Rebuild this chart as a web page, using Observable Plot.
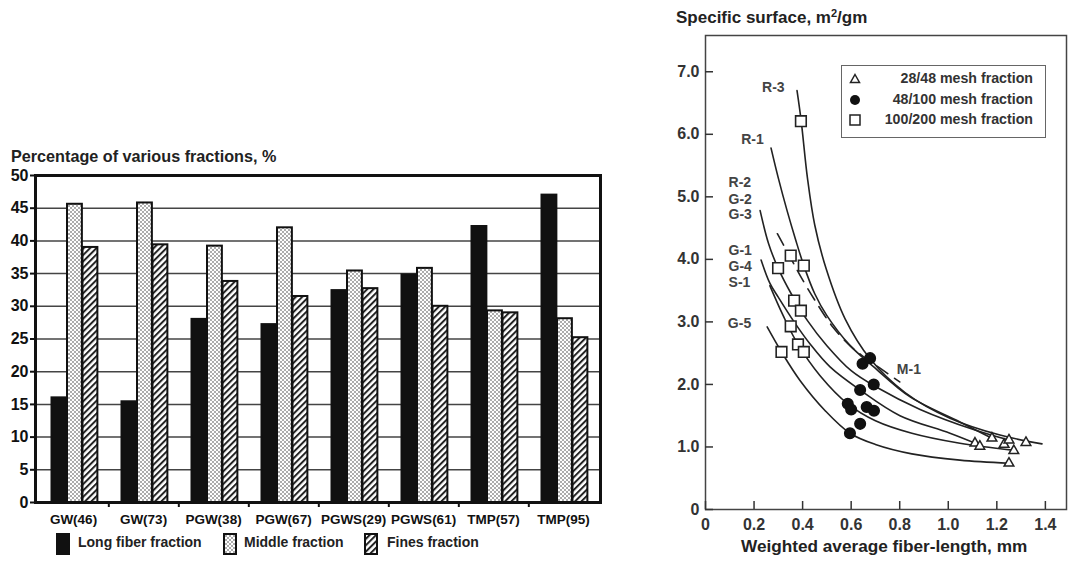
<!DOCTYPE html>
<html><head><meta charset="utf-8">
<script src="https://cdn.jsdelivr.net/npm/d3@7"></script>
<script src="https://cdn.jsdelivr.net/npm/@observablehq/plot@0.6"></script>
<style>
body{margin:0;background:#fff;}
#page{position:relative;width:1073px;height:569px;overflow:hidden;font-family:"Liberation Sans",Arial,sans-serif;font-weight:bold;color:#222;background:#fff;}
.abs{position:absolute;white-space:nowrap;}
</style></head><body><div id="page">
<svg width="0" height="0" style="position:absolute">
<defs>
<pattern id="dots" width="4" height="4" patternUnits="userSpaceOnUse"><rect width="4" height="4" fill="#fff"/><circle cx="1" cy="1" r="0.75" fill="#333"/><circle cx="3" cy="3" r="0.75" fill="#333"/></pattern>
<pattern id="hatch" width="4.5" height="4.5" patternUnits="userSpaceOnUse" patternTransform="rotate(45)"><rect width="4.5" height="4.5" fill="#fff"/><rect width="2" height="4.5" fill="#222"/></pattern>
</defs></svg>
</div>
<script>
// ---------- Left chart data ----------
const categories = ["GW(46)","GW(73)","PGW(38)","PGW(67)","PGWS(29)","PGWS(61)","TMP(57)","TMP(95)"];
const fractions = ["Long fiber fraction","Middle fraction","Fines fraction"];
const longFiber = [16.0,15.4,28.0,27.2,32.4,34.8,42.2,47.0];
const middleFrac = [45.6,45.8,39.2,42.0,35.4,35.8,29.3,28.1];
const finesFrac = [39.0,39.4,33.8,31.5,32.7,30.0,29.0,25.2];
const leftYTicks = [0,5,10,15,20,25,30,35,40,45,50];

// ---------- Right chart data ----------
const rightXTicks = [0,0.2,0.4,0.6,0.8,1.0,1.2,1.4];
const rightYTicks = [0,1,2,3,4,5,6,7];
const mesh28 = [[1.11,1.06],[1.13,1.01],[1.18,1.14],[1.23,1.04],[1.25,1.11],[1.27,0.94],[1.25,0.74],[1.32,1.07]];
const mesh48 = [[0.647,2.33],[0.678,2.42],[0.693,2.00],[0.637,1.91],[0.586,1.69],[0.600,1.60],[0.664,1.64],[0.694,1.58],[0.637,1.37],[0.595,1.22]];
const mesh100 = [[0.393,6.21],[0.351,4.06],[0.299,3.86],[0.405,3.90],[0.365,3.34],[0.393,3.18],[0.351,2.93],[0.381,2.64],[0.405,2.52],[0.313,2.52]];
const curveR3 = [[0.377,6.70],[0.394,6.22],[0.42,5.30],[0.45,4.55],[0.497,3.85],[0.575,3.05],[0.678,2.41],[0.822,1.87],[1.007,1.46],[1.213,1.19],[1.386,1.05]];
const curveR1 = [[0.270,5.78],[0.30,5.30],[0.336,4.78],[0.37,4.33],[0.405,3.90],[0.45,3.45],[0.50,3.10],[0.596,2.62],[0.693,2.28],[0.843,1.80],[1.048,1.40],[1.180,1.14]];
const curveR2 = [[0.225,4.78],[0.26,4.25],[0.299,3.86],[0.353,3.45],[0.42,3.02],[0.50,2.62],[0.60,2.22],[0.707,1.95],[0.884,1.60],[1.110,1.27],[1.250,1.11]];
const curveG1 = [[0.229,3.99],[0.265,3.62],[0.299,3.40],[0.365,3.00],[0.43,2.65],[0.513,2.28],[0.637,1.91],[0.801,1.50],[1.007,1.22],[1.130,1.03]];
const curveS1 = [[0.265,3.58],[0.32,3.10],[0.381,2.64],[0.472,2.14],[0.586,1.69],[0.70,1.42],[0.85,1.22],[1.048,1.06],[1.266,0.95]];
const curveG5 = [[0.254,2.92],[0.313,2.52],[0.39,2.06],[0.493,1.58],[0.595,1.22],[0.70,1.04],[0.85,0.89],[1.048,0.79],[1.250,0.74]];
const curveM1 = [[0.296,4.41],[0.351,4.02],[0.39,3.74],[0.458,3.30],[0.526,2.91],[0.595,2.62],[0.649,2.45],[0.719,2.26],[0.80,2.04]];
const curveLabels = [["R-3",0.233,6.75],["R-1",0.147,5.92],["R-2",0.095,5.23],["G-2",0.095,4.96],["G-3",0.095,4.71],["G-1",0.095,4.14],["G-4",0.095,3.88],["S-1",0.095,3.63],["G-5",0.092,2.97],["M-1",0.788,2.24]];

const FONT = '"Liberation Sans", Arial, sans-serif';
const page = document.getElementById("page");
function place(el, left, top){ el.style.position="absolute"; el.style.left=left+"px"; el.style.top=top+"px"; page.appendChild(el); return el; }
function textDiv(txt, left, top, size, extra){ const d=document.createElement("div"); d.className="abs"; d.innerHTML=txt; d.style.fontSize=size+"px"; place(d,left,top); if(extra) Object.assign(d.style, extra); return d; }

// ---------- Left chart ----------
const rows = [];
categories.forEach((c,i)=>{ rows.push({cat:c,fraction:fractions[0],value:longFiber[i]}); rows.push({cat:c,fraction:fractions[1],value:middleFrac[i]}); rows.push({cat:c,fraction:fractions[2],value:finesFrac[i]}); });
const LW=615, LML=35, LMR=15;
const band=(LW-LML-LMR)/categories.length, bw=15.5, off=13.5;
const fillRange=["#111","url(#dots)","url(#hatch)"];
const leftPlot = Plot.plot({
  width: LW, height: 377, marginLeft: LML, marginRight: LMR, marginTop: 10, marginBottom: 40,
  style: {fontFamily: FONT, fontWeight: "bold", fontSize: "14px", color: "#111", background: "transparent", overflow: "visible"},
  x: {domain: categories, padding: 0, label: null},
  y: {domain: [0,50], label: null},
  color: {domain: fractions, range: fillRange},
  marks: [
    Plot.gridY(leftYTicks, {stroke: "#444", strokeOpacity: 1, strokeWidth: 1.5}),
    ...fractions.map((f,k)=>Plot.barY(rows.filter(r=>r.fraction===f), {x:"cat", y:"value", fill:"fraction", stroke:"#111", strokeWidth:2, insetLeft: off+bw*k, insetRight: band-off-bw*(k+1)})),
    Plot.frame({stroke:"#111", strokeWidth:3}),
    Plot.axisY(leftYTicks, {tickSize:5, tickPadding:2, fontSize:16, strokeWidth:2}),
    Plot.axisX({tickSize:0, tickPadding:12, fontSize:13.5}),
    Plot.axisX(categories.slice(0,-1), {tickSize:5, dx: band/2, fill:"none", strokeWidth:2})
  ]
});
place(leftPlot, 0, 165);
textDiv("Percentage of various fractions, %", 11, 147, 16.2);
// legend
const legendItems = [[56,78],[223,244],[364,387]];
fractions.forEach((f,k)=>{
  const [sx,tx]=legendItems[k];
  const s=document.createElementNS("http://www.w3.org/2000/svg","svg");
  s.setAttribute("width",14); s.setAttribute("height",22);
  s.innerHTML=`<rect x="1" y="1" width="12" height="20" fill="${fillRange[k]}" stroke="#111" stroke-width="2"/>`;
  place(s, sx, 533);
  textDiv(f, tx, 534, 14);
});

// ---------- Right chart ----------
const fmt = d => d===0 ? "0" : d.toFixed(1);
const toObj = arr => arr.map(([x,y])=>({x,y}));
const curves = [["R-3",curveR3],["R-1",curveR1],["R-2",curveR2],["G-1",curveG1],["S-1",curveS1],["G-5",curveG5]]
  .flatMap(([id,pts])=>pts.map(([x,y])=>({id,x,y})));
const rightPlot = Plot.plot({
  width: 433, height: 540, marginLeft: 65, marginRight: 7, marginTop: 5, marginBottom: 61,
  style: {fontFamily: FONT, fontWeight: "bold", fontSize: "15px", color: "#333", background: "transparent", overflow: "visible"},
  x: {domain: [0,1.487], label: null},
  y: {domain: [0,7.58], label: null},
  marks: [
    Plot.frame({stroke:"#444", strokeWidth:1.5}),
    Plot.axisY(rightYTicks, {tickSize:8, dx:8, fill:"none", strokeWidth:1.5}),
    Plot.axisY(rightYTicks, {tickSize:0, tickPadding:6, tickFormat: fmt, fontSize:16}),
    Plot.axisX(rightXTicks, {tickSize:8, dy:-8, fill:"none", strokeWidth:1.5}),
    Plot.axisX(rightXTicks, {tickSize:0, tickPadding:9, tickFormat: fmt, fontSize:16}),
    Plot.line(curves, {x:"x", y:"y", z:"id", curve:"catmull-rom", stroke:"#222", strokeWidth:1.6}),
    Plot.line(toObj(curveM1), {x:"x", y:"y", curve:"catmull-rom", stroke:"#222", strokeWidth:1.6, strokeDasharray:"13,8"}),
    Plot.dot(toObj(mesh28), {x:"x", y:"y", symbol:"triangle", r:3.6, fill:"white", stroke:"#222", strokeWidth:1.5}),
    Plot.dot(toObj(mesh48), {x:"x", y:"y", symbol:"circle", r:5.3, fill:"#111", stroke:"#111"}),
    Plot.dot(toObj(mesh100), {x:"x", y:"y", symbol:"square", r:6, fill:"white", stroke:"#222", strokeWidth:1.6}),
    Plot.text(curveLabels, {x:d=>d[1], y:d=>d[2], text:d=>d[0], textAnchor:"start", fontSize:14, fill:"#444"})
  ]
});
place(rightPlot, 640, 30);
textDiv("Specific surface, m<sup style='font-size:11px;vertical-align:6px;line-height:0'>2</sup>/gm", 676, 8, 17);
textDiv("Weighted average fiber-length, mm", 741, 536, 17.2);
// right legend box
const lg=document.createElement("div");
lg.style.cssText="border:1.5px solid #666;width:205px;height:73px;box-sizing:border-box;";
place(lg, 841, 65);
const meshLabels=["28/48 mesh fraction","48/100 mesh fraction","100/200 mesh fraction"];
const meshSym=[`<path d="M7,2.5 L11.5,10.5 L2.5,10.5 Z" fill="#fff" stroke="#222" stroke-width="1.5"/>`,`<circle cx="7" cy="7" r="5" fill="#111"/>`,`<rect x="2" y="2" width="10" height="10" fill="#fff" stroke="#222" stroke-width="1.5"/>`];
meshLabels.forEach((t,k)=>{
  const s=document.createElementNS("http://www.w3.org/2000/svg","svg");
  s.setAttribute("width",14); s.setAttribute("height",14);
  s.innerHTML=meshSym[k];
  place(s, 848, 72+k*20.5);
  textDiv(t, 860, 70+k*20.5, 14.2, {width:"173px", textAlign:"right", color:"#333"});
});
</script>
</body></html>
